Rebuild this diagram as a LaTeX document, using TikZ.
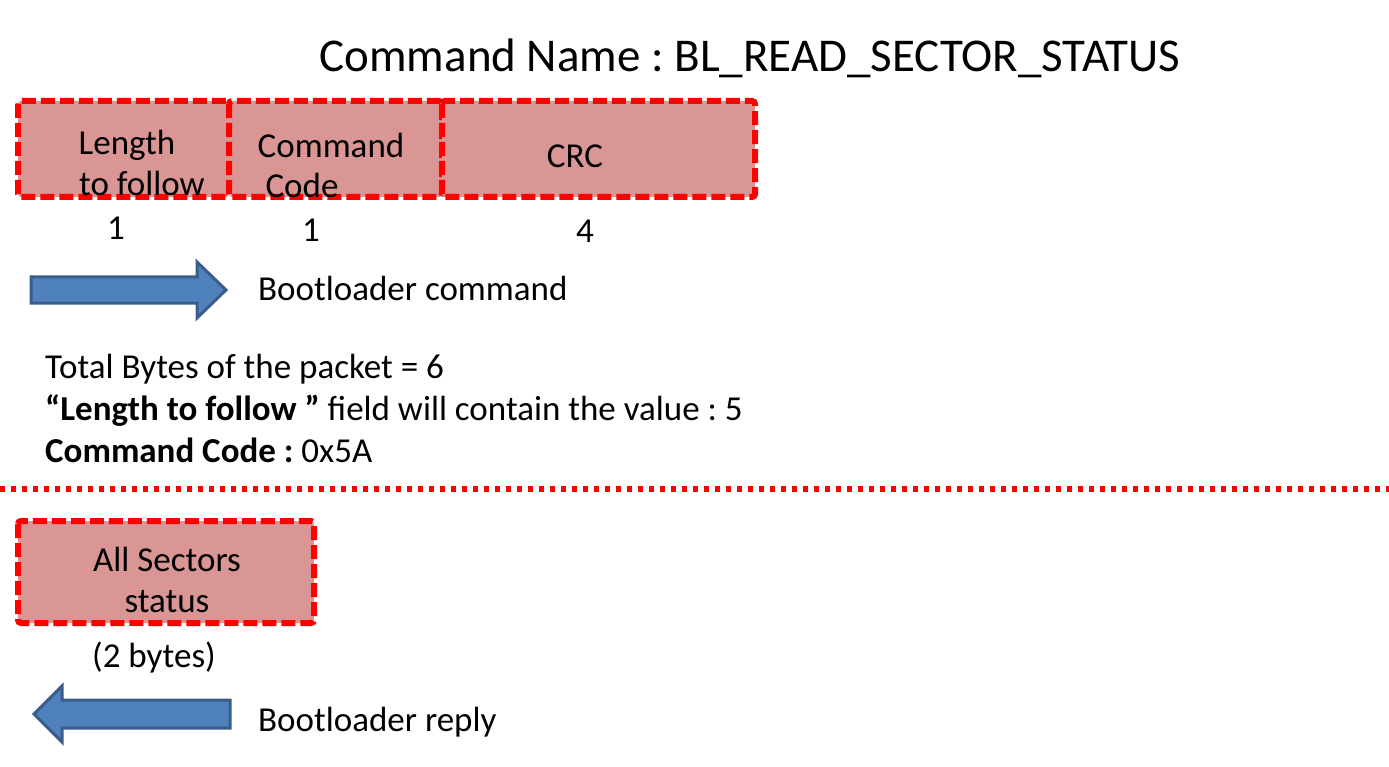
\documentclass[tikz,border=0pt]{standalone}
\usepackage{fontspec}
\setmainfont{Carlito}
\usepackage{tikz}
\usetikzlibrary{positioning}
\frenchspacing

\definecolor{fieldfill}{HTML}{D99694}
\definecolor{arrowfill}{HTML}{4F81BD}
\definecolor{arrowline}{HTML}{385D8A}

\tikzset{
  field/.style={draw=red, fill=fieldfill, line width=6pt, dash pattern=on 14pt off 5pt,
    rounded corners=3pt, inner sep=0pt},
  txt/.style={font=\fontsize{35}{42}\selectfont, inner sep=0pt},
  bigarrow/.style={fill=arrowfill, draw=arrowline, line width=3pt, line join=miter}
}

\begin{document}
\begin{tikzpicture}[x=1pt, y=-1pt]
  \useasboundingbox (0,0) rectangle (1389,767);

  % title
  \node[txt, font=\fontsize{47}{56}\selectfont, anchor=base] (title) at (750,72) {Command Name : BL\_READ\_SECTOR\_STATUS};

  % command packet fields
  \path[field] (18,101) rectangle (229,197);
  \path[field] (229,101) rectangle (442,197);
  \path[field] (442,101) rectangle (755,197);

  \node[txt, anchor=base] (lenA) at (127,155) {Length};
  \node[txt, anchor=base] (lenB) at (142,196) {to follow};
  \node[txt, anchor=base] (codeA) at (331,158) {Command};
  \node[txt, anchor=base] (codeB) at (302,198) {Code};
  \node[txt, anchor=base] (crcA) at (575,168) {CRC};

  % byte counts
  \node[txt, anchor=base] (nlen) at (116,240) {1};
  \node[txt, anchor=base] (ncode) at (311,242) {1};
  \node[txt, anchor=base] (ncrc) at (585,243) {4};

  % command arrow
  \coordinate (cmdtail) at (31,290);
  \draw[bigarrow] (cmdtail) ++(0,-13) -- ++(166,0) -- ++(0,-15) -- ++(29,28)
    -- ++(-29,28) -- ++(0,-15) -- ++(-166,0) -- cycle;
  \node[txt, anchor=base west] (cmdlbl) at (258,301) {Bootloader command};

  % packet notes
  \node[txt, anchor=base west] (total) at (45,378) {Total Bytes of the packet = 6};
  \node[txt, anchor=base west] (follow) at (45,420) {\textbf{“Length to follow ”} field will contain the value : 5};
  \node[txt, anchor=base west] (cmdcode) at (45,462) {\textbf{Command Code :} 0x5A};

  % separator
  \coordinate (sepL) at (0,489);
  \coordinate (sepR) at (1389,489);
  \draw[red, line width=6pt, dash pattern=on 5pt off 6pt] (sepL) -- (sepR);

  % reply field
  \path[field] (18,521) rectangle (314,623);
  \node[txt, anchor=base] (allA) at (167,571) {All Sectors};
  \node[txt, anchor=base] (allB) at (167,612) {status};
  \node[txt, anchor=base] (nall) at (154,667) {(2 bytes)};

  % reply arrow
  \coordinate (reptail) at (230,714);
  \draw[bigarrow] (reptail) ++(0,-14) -- ++(-168,0) -- ++(0,-14) -- ++(-28,28)
    -- ++(28,28) -- ++(0,-14) -- ++(168,0) -- cycle;
  \node[txt, anchor=base west] (replbl) at (258,731) {Bootloader reply};
\end{tikzpicture}
\end{document}
